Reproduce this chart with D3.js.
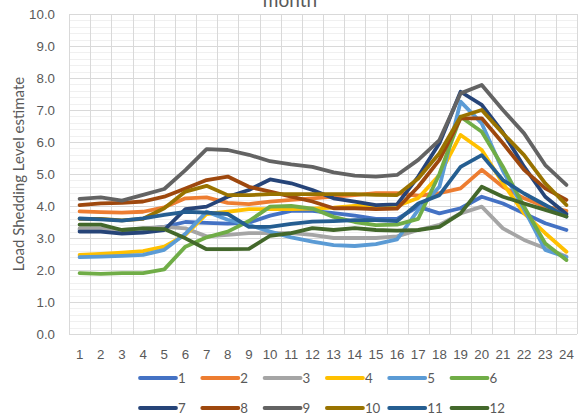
<!DOCTYPE html>
<html>
<head>
<meta charset="utf-8">
<script src="https://cdn.jsdelivr.net/npm/d3@7"></script>
<style>
  html, body { margin: 0; padding: 0; background: #ffffff; }
  svg { display: block; font-family: Lato, "Open Sans", "Liberation Sans", sans-serif; }
</style>
</head>
<body>
<svg id="chart" width="579" height="415"></svg>
<script>
// Hour-of-day categories on the x axis
const hours = ["1","2","3","4","5","6","7","8","9","10","11","12",
               "13","14","15","16","17","18","19","20","21","22","23","24"];

// Series names (months)
const monthNames = ["1","2","3","4","5","6","7","8","9","10","11","12"];

// Average load shedding level per hour, one array per month
const month1  = [3.25,3.25,3.22,3.28,3.35,3.50,3.47,3.45,3.48,3.70,3.85,3.85,3.78,3.70,3.60,3.60,3.98,3.77,3.93,4.29,4.08,3.77,3.46,3.25];
const month2  = [3.83,3.81,3.79,3.82,3.96,4.24,4.27,4.10,4.06,4.14,4.19,4.24,4.29,4.34,4.40,4.40,4.32,4.40,4.55,5.13,4.60,4.24,3.98,3.85];
const month3  = [3.30,3.30,3.25,3.30,3.35,3.30,3.05,3.10,3.15,3.15,3.15,3.10,3.00,3.00,3.00,3.05,3.25,3.41,3.77,3.98,3.30,2.94,2.68,2.42];
const month4  = [2.47,2.50,2.54,2.59,2.73,3.10,3.75,3.82,3.90,3.90,3.90,3.92,3.95,4.00,4.00,4.00,4.25,4.97,6.22,5.75,4.71,3.77,3.15,2.57];
const month5  = [2.40,2.42,2.44,2.47,2.63,3.13,3.82,3.57,3.41,3.20,3.02,2.89,2.78,2.75,2.81,2.96,3.88,4.60,7.26,6.58,5.10,3.90,2.63,2.40];
const month6  = [1.90,1.88,1.90,1.90,2.02,2.73,3.02,3.20,3.53,3.98,4.00,3.92,3.66,3.50,3.40,3.42,3.60,5.00,6.79,6.32,5.23,3.98,2.83,2.31];
const month7  = [3.20,3.20,3.14,3.17,3.25,3.90,3.98,4.29,4.50,4.83,4.71,4.50,4.24,4.14,4.03,4.05,4.92,5.96,7.57,7.16,6.30,5.23,4.29,3.75];
const month8  = [4.03,4.08,4.10,4.14,4.29,4.55,4.81,4.92,4.60,4.45,4.29,4.14,3.93,3.93,3.90,3.92,4.60,5.44,6.74,6.74,5.96,5.13,4.55,4.19];
const month9  = [4.22,4.27,4.17,4.35,4.53,5.12,5.78,5.75,5.60,5.40,5.30,5.22,5.05,4.95,4.92,4.97,5.44,6.06,7.52,7.78,7.00,6.27,5.28,4.66];
const month10 = [3.60,3.60,3.55,3.60,3.93,4.45,4.63,4.34,4.34,4.37,4.37,4.37,4.37,4.37,4.35,4.34,4.86,5.65,6.79,7.00,6.27,5.59,4.71,4.03];
const month11 = [3.61,3.58,3.54,3.61,3.72,3.82,3.79,3.75,3.35,3.35,3.44,3.51,3.53,3.56,3.56,3.53,4.08,4.34,5.22,5.59,4.81,4.39,4.03,3.67];
const month12 = [3.42,3.42,3.25,3.30,3.28,2.99,2.65,2.65,2.66,3.07,3.15,3.31,3.25,3.31,3.25,3.23,3.25,3.35,3.77,4.60,4.29,4.08,3.88,3.67];

const seriesColors = ["#4472C4","#ED7D31","#A5A5A5","#FFC000","#5B9BD5","#70AD47",
                      "#264478","#9E480E","#636363","#997300","#255E91","#43682B"];

const yTickValues = [0,1,2,3,4,5,6,7,8,9,10];

const allSeries = [month1, month2, month3, month4, month5, month6,
                   month7, month8, month9, month10, month11, month12]
  .map((values, i) => ({ name: monthNames[i], color: seriesColors[i], values }));

const svg = d3.select("#chart");
const width = 579, height = 415;
const margin = { top: 14, right: 2, bottom: 81, left: 69 };
const plotW = width - margin.left - margin.right;
const plotH = height - margin.top - margin.bottom;

svg.append("rect").attr("width", width).attr("height", height).attr("fill", "#ffffff");

const x = d3.scaleBand().domain(hours).range([margin.left, margin.left + plotW]).paddingInner(0).paddingOuter(0);
const y = d3.scaleLinear().domain([0, 10]).range([margin.top + plotH, margin.top]);

const grid = svg.append("g");

// minor horizontal gridlines every 0.2
const minorTicks = d3.range(0, 10.001, 0.2).filter(v => Math.abs(v - Math.round(v)) > 1e-6);
grid.selectAll("line.minor").data(minorTicks).join("line")
  .attr("x1", margin.left).attr("x2", margin.left + plotW)
  .attr("y1", d => Math.round(y(d)) + 0.5).attr("y2", d => Math.round(y(d)) + 0.5)
  .attr("stroke", "#f0f0f0").attr("stroke-width", 1);

// major horizontal gridlines
grid.selectAll("line.major").data(yTickValues).join("line")
  .attr("x1", margin.left).attr("x2", margin.left + plotW)
  .attr("y1", d => Math.round(y(d)) + 0.5).attr("y2", d => Math.round(y(d)) + 0.5)
  .attr("stroke", "#d9d9d9").attr("stroke-width", 1);

// vertical gridlines at category boundaries
const boundaries = hours.map(h => x(h)).concat([margin.left + plotW]);
grid.selectAll("line.vert").data(boundaries).join("line")
  .attr("x1", d => Math.round(d) + 0.5).attr("x2", d => Math.round(d) + 0.5)
  .attr("y1", margin.top).attr("y2", margin.top + plotH)
  .attr("stroke", "#d9d9d9").attr("stroke-width", 1);

// Y axis labels
const yAxis = d3.axisLeft(y).tickValues(yTickValues).tickFormat(d3.format(".1f")).tickSize(0).tickPadding(14);
const gy = svg.append("g").attr("transform", `translate(${margin.left},0)`).call(yAxis);
gy.select(".domain").remove();
gy.selectAll("text").attr("fill", "#595959").style("font-size", "13.3px");

// X axis labels
const xAxis = d3.axisBottom(x).tickSize(0).tickPadding(16);
const gx = svg.append("g").attr("transform", `translate(0,${margin.top + plotH})`).call(xAxis);
gx.select(".domain").remove();
gx.selectAll("text").attr("fill", "#595959").style("font-size", "13.3px");

// Lines
const line = d3.line()
  .x((d, i) => x(hours[i]) + x.bandwidth() / 2)
  .y(d => y(d));

svg.append("g").selectAll("path").data(allSeries).join("path")
  .attr("d", d => line(d.values))
  .attr("fill", "none")
  .attr("stroke", d => d.color)
  .attr("stroke-width", 3.8)
  .attr("stroke-linejoin", "round")
  .attr("stroke-linecap", "round");

// Title (partly above the top edge)
svg.append("text")
  .attr("x", 290).attr("y", 7)
  .attr("text-anchor", "middle")
  .attr("fill", "#595959")
  .style("font-size", "19px")
  .text("month");

// Y axis title
svg.append("text")
  .attr("transform", `translate(20,${margin.top + plotH / 2}) rotate(-90)`)
  .attr("text-anchor", "middle")
  .attr("dominant-baseline", "middle")
  .attr("fill", "#595959")
  .style("font-size", "15px")
  .text("Load Shedding Level estimate");

// Legend: two rows of six
const legend = svg.append("g");
const legendItems = legend.selectAll("g").data(allSeries).join("g")
  .attr("transform", (d, i) => `translate(${140 + (i % 6) * 62.3},${i < 6 ? 378 : 408})`);
legendItems.append("line")
  .attr("x1", 0).attr("x2", 36).attr("y1", 0).attr("y2", 0)
  .attr("stroke", d => d.color).attr("stroke-width", 3.8).attr("stroke-linecap", "round");
legendItems.append("text")
  .attr("x", 38).attr("y", 0)
  .attr("dominant-baseline", "central")
  .attr("fill", "#595959")
  .style("font-size", "13.3px")
  .text(d => d.name);
</script>
</body>
</html>
